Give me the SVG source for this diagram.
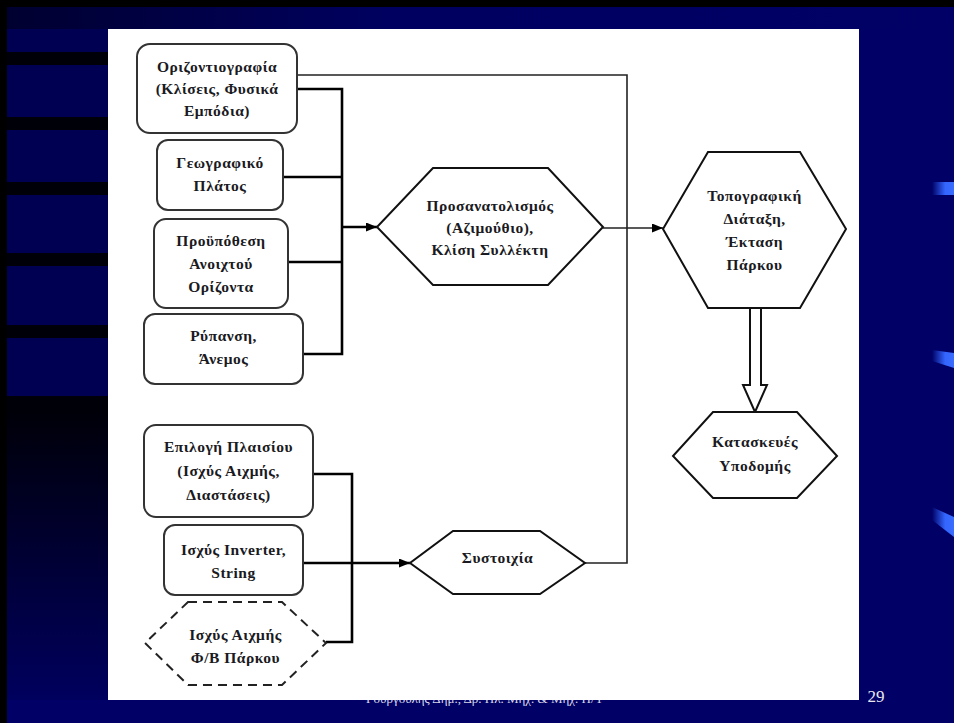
<svg xmlns="http://www.w3.org/2000/svg" width="954" height="723" viewBox="0 0 954 723">
<style>
.box{fill:#fff;stroke:#333;stroke-width:2}
.hex{fill:#fff;stroke:#111;stroke-width:2}
.dash{fill:#fff;stroke:#222;stroke-width:2;stroke-dasharray:9 6}
.lbl{font-family:"Liberation Serif","Times New Roman",serif;font-size:15.5px;font-weight:bold;letter-spacing:0.5px;fill:#1a1a22;text-anchor:middle}
.bus{fill:none;stroke:#000;stroke-width:2.6}
.thin{fill:none;stroke:#222;stroke-width:1.6}
</style>
<defs>
<marker id="ah" markerWidth="11" markerHeight="9" refX="11" refY="4.5" orient="auto" markerUnits="userSpaceOnUse">
<path d="M0,0 L11,4.5 L0,9 z" fill="#000"/>
</marker>
<linearGradient id="topg" x1="0" y1="0" x2="1" y2="0">
<stop offset="0" stop-color="#000030"/>
<stop offset="0.4" stop-color="#000060"/>
<stop offset="1" stop-color="#000066"/>
</linearGradient>
<linearGradient id="leftg" x1="0" y1="0" x2="0" y2="1">
<stop offset="0" stop-color="#000008"/>
<stop offset="1" stop-color="#00005e"/>
</linearGradient>
<linearGradient id="acc" x1="0" y1="0" x2="1" y2="0">
<stop offset="0" stop-color="#000066"/>
<stop offset="0.6" stop-color="#3366ff"/>
<stop offset="1" stop-color="#3a6cff"/>
</linearGradient>
</defs>
<g id="background">
<rect x="0" y="0" width="954" height="723" fill="#000066"/>
<rect x="7" y="7" width="947" height="22" fill="url(#topg)"/>
<rect x="7" y="29" width="101" height="380" fill="#000052"/>
<rect x="7" y="52" width="101" height="13" fill="#000008"/>
<rect x="7" y="117" width="101" height="13" fill="#000008"/>
<rect x="7" y="182" width="101" height="13" fill="#000008"/>
<rect x="7" y="253" width="101" height="13" fill="#000008"/>
<rect x="7" y="325" width="101" height="13" fill="#000008"/>
<rect x="7" y="396" width="101" height="13" fill="#000008"/>
<rect x="7" y="409" width="101" height="291" fill="url(#leftg)"/>
<rect x="0" y="0" width="954" height="7" fill="#000"/>
<rect x="0" y="0" width="7" height="723" fill="#000"/>
<polygon points="932,182 954,182 954,195 932,195" fill="url(#acc)"/>
<polygon points="932,350 954,353 954,368 932,361" fill="url(#acc)"/>
<polygon points="932,507 954,517 954,537 932,520" fill="url(#acc)"/>
<text x="485" y="703" font-family="Liberation Serif, serif" font-size="13" fill="#d8d8e8" text-anchor="middle">Γουργούλης Δημ., Δρ. Ηλ. Μηχ. &amp; Μηχ. Η/Υ</text>
<text x="876" y="702" font-family="Liberation Serif, serif" font-size="17" fill="#e8e8f0" text-anchor="middle">29</text>
<rect x="108" y="29" width="751" height="671" fill="#fff"/>
</g>
<g id="connectors">
<path class="thin" d="M297,75 H627 V563 H585"/>
<path class="bus" d="M297,89 H342 V354 H303"/>
<path class="bus" d="M283,177 H342"/>
<path class="bus" d="M288,262 H342"/>
<path class="bus" d="M342,227 H377" marker-end="url(#ah)"/>
<path class="thin" d="M603,228 H663" stroke-width="2" marker-end="url(#ah)"/>
<path class="bus" d="M313,474 H352 V642 H326"/>
<path class="bus" d="M303,563 H410" marker-end="url(#ah)"/>
<polygon points="750,308 761,308 761,385 767,385 755,412 743,385 750,385" fill="#fff" stroke="#111" stroke-width="2"/>
</g>
<g id="n-orizontiografia">
<rect class="box" x="137" y="44" width="160" height="89" rx="13"/>
<text class="lbl"><tspan x="217" y="72">Οριζοντιογραφία</tspan><tspan x="217" y="94">(Κλίσεις, Φυσικά</tspan><tspan x="217" y="116">Εμπόδια)</tspan></text>
</g>
<g id="n-geografiko">
<rect class="box" x="157" y="140" width="126" height="70" rx="11"/>
<text class="lbl"><tspan x="220" y="168">Γεωγραφικό</tspan><tspan x="220" y="191">Πλάτος</tspan></text>
</g>
<g id="n-proupothesi">
<rect class="box" x="154" y="219" width="134" height="89" rx="12"/>
<text class="lbl"><tspan x="221" y="246">Προϋπόθεση</tspan><tspan x="221" y="269">Ανοιχτού</tspan><tspan x="221" y="292">Ορίζοντα</tspan></text>
</g>
<g id="n-rypansi">
<rect class="box" x="144" y="314" width="159" height="70" rx="11"/>
<text class="lbl"><tspan x="223.5" y="341">Ρύπανση,</tspan><tspan x="223.5" y="364">Άνεμος</tspan></text>
</g>
<g id="n-epilogi">
<rect class="box" x="144" y="425" width="169" height="92" rx="12"/>
<text class="lbl"><tspan x="228.5" y="452">Επιλογή Πλαισίου</tspan><tspan x="228.5" y="476">(Ισχύς Αιχμής,</tspan><tspan x="228.5" y="500">Διαστάσεις)</tspan></text>
</g>
<g id="n-inverter">
<rect class="box" x="164" y="525" width="139" height="70" rx="11"/>
<text class="lbl"><tspan x="233.5" y="555">Ισχύς Inverter,</tspan><tspan x="233.5" y="578">String</tspan></text>
</g>
<g id="n-isxys-parkou">
<polygon class="dash" points="188,602 282,602 326,643 282,685 188,685 145,643"/>
<text class="lbl"><tspan x="235.5" y="640">Ισχύς Αιχμής</tspan><tspan x="235.5" y="663">Φ/Β Πάρκου</tspan></text>
</g>
<g id="n-prosanatolismos">
<polygon class="hex" points="433,168 548,168 603,227 548,285 433,285 377,227"/>
<text class="lbl"><tspan x="490" y="211">Προσανατολισμός</tspan><tspan x="490" y="233">(Αζιμούθιο),</tspan><tspan x="490" y="255">Κλίση Συλλέκτη</tspan></text>
</g>
<g id="n-topografiki">
<polygon class="hex" points="708,152 800,152 846,229 800,308 708,308 663,229"/>
<text class="lbl"><tspan x="754.5" y="201">Τοπογραφική</tspan><tspan x="754.5" y="224">Διάταξη,</tspan><tspan x="754.5" y="247">Έκταση</tspan><tspan x="754.5" y="270">Πάρκου</tspan></text>
</g>
<g id="n-kataskeves">
<polygon class="hex" points="713,412 797,412 837,456 797,498 713,498 673,456"/>
<text class="lbl"><tspan x="755" y="447">Κατασκευές</tspan><tspan x="755" y="471">Υποδομής</tspan></text>
</g>
<g id="n-systoixia">
<polygon class="hex" points="453,531 540,531 585,563 540,594 453,594 410,563"/>
<text class="lbl"><tspan x="497.5" y="563">Συστοιχία</tspan></text>
</g>
</svg>
